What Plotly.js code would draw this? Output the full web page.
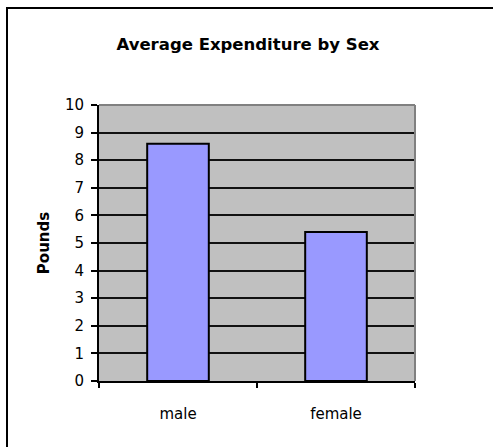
<!DOCTYPE html>
<html>
<head>
<meta charset="utf-8">
<script src="https://cdn.plot.ly/plotly-3.0.1.min.js"></script>
<style>
  html, body { margin: 0; padding: 0; background: #fff; }
  #wrap { position: relative; width: 493px; height: 447px; overflow: hidden; }
  #chart { position: absolute; left: 0; top: 0; width: 493px; height: 447px; }
  /* chart-area frame (top and left edges) */
  #frame {
    position: absolute; left: 6px; top: 7px; width: 600px; height: 600px;
    border-top: 2px solid #000; border-left: 2px solid #000;
    pointer-events: none;
  }
</style>
</head>
<body>
<div id="wrap">
  <div id="chart"></div>
  <div id="frame"></div>
</div>
<script>
// Average expenditure (pounds) per sex
const categories = ['male', 'female'];
const pounds = [8.6, 5.4];
const yTicks = [0, 1, 2, 3, 4, 5, 6, 7, 8, 9, 10];

const FONT = 'DejaVu Sans, Liberation Sans, Arial, sans-serif';

const trace = {
  type: 'bar',
  x: categories,
  y: pounds,
  marker: { color: '#9999FF', line: { color: '#000000', width: 2 } },
  hoverinfo: 'x+y'
};

const layout = {
  width: 493,
  height: 447,
  margin: { l: 99, r: 78, t: 105, b: 66, pad: 0 },
  paper_bgcolor: '#ffffff',
  plot_bgcolor: '#C0C0C0',
  bargap: 0.61,
  showlegend: false,
  font: { family: FONT, size: 15, color: '#000' },
  title: {
    text: '<b>Average Expenditure by Sex</b>',
    font: { family: FONT, size: 16.5, color: '#000' },
    x: 248 / 493, xref: 'container', xanchor: 'center',
    y: 1 - 44 / 447, yref: 'container', yanchor: 'middle'
  },
  xaxis: {
    type: 'category',
    showline: true, linecolor: '#000', linewidth: 2,
    ticks: 'outside', tickson: 'boundaries', ticklen: 5, tickwidth: 2, tickcolor: '#000',
    ticklabelstandoff: 18,
    tickfont: { family: FONT, size: 15, color: '#000' },
    showgrid: false, zeroline: false, fixedrange: true
  },
  yaxis: {
    range: [0, 10],
    tickmode: 'array', tickvals: yTicks, ticktext: yTicks.map(String),
    showline: true, linecolor: '#000', linewidth: 2,
    ticks: 'outside', ticklen: 6, tickwidth: 2, tickcolor: '#000',
    ticklabelstandoff: 4,
    tickfont: { family: FONT, size: 15, color: '#000' },
    showgrid: true, gridcolor: '#111', gridwidth: 2,
    zeroline: false, fixedrange: true,
    title: { text: '<b>Pounds</b>', font: { family: FONT, size: 15, color: '#000' }, standoff: 12 }
  },
  shapes: [
    // plot-area border on the top and right sides
    { type: 'line', xref: 'paper', yref: 'paper', x0: 0, x1: 1, y0: 1, y1: 1,
      line: { color: '#808080', width: 2 }, layer: 'above' },
    { type: 'line', xref: 'paper', yref: 'paper', x0: 1, x1: 1, y0: 0, y1: 1,
      line: { color: '#808080', width: 2 }, layer: 'above' }
  ]
};

Plotly.newPlot('chart', [trace], layout, { displayModeBar: false, staticPlot: true });
</script>
</body>
</html>
